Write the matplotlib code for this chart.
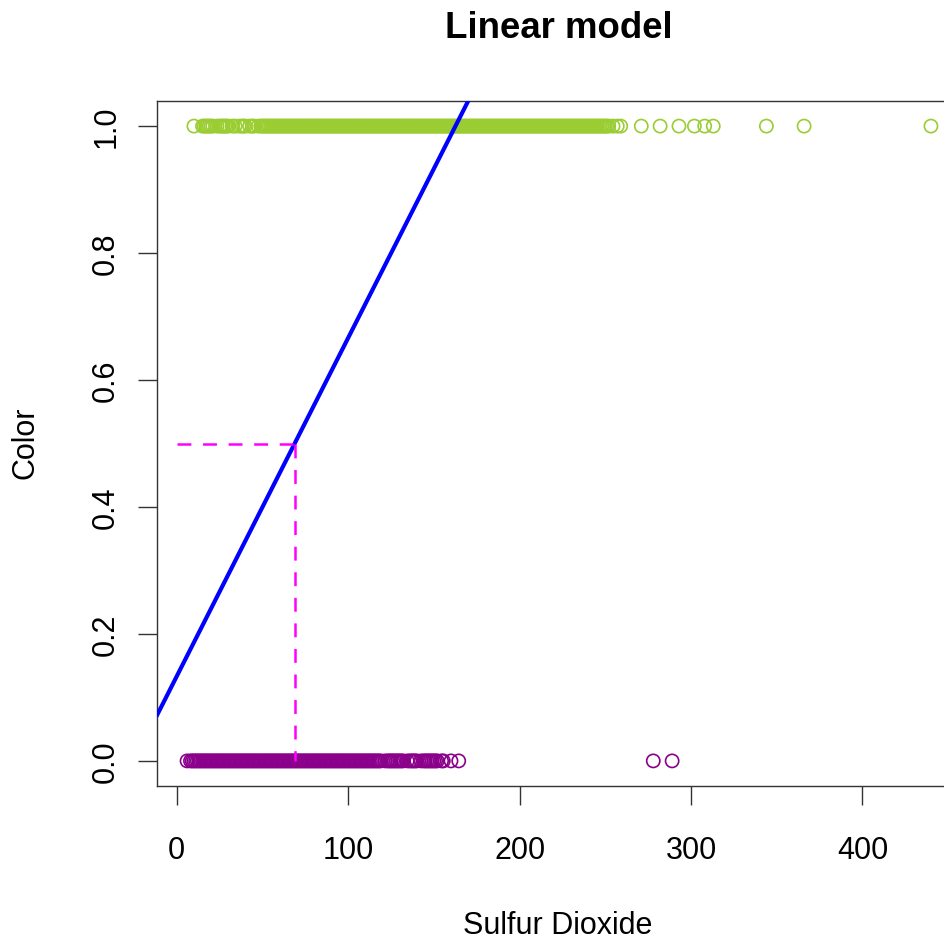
import matplotlib
matplotlib.use("Agg")
import matplotlib.pyplot as plt

# ---- data (dense bands read as ~1-unit steps) ----
white_so2 = [10, 15, 16, 17, 18, 19, 20, 21, 23.5, 25, 26, 27, 28, 29, 30, 32.5, 34,
             36.5, 38, 39, 40, 42.5, 44, 45, 47.5,
             49, 50, 51, 52, 53, 54, 55, 56, 57, 58, 59, 60, 61, 62, 63, 64, 65, 66,
             67, 68, 69, 70, 71, 72, 73, 74, 75, 76, 77, 78, 79, 80, 81, 82, 83, 84,
             85, 86, 87, 88, 89, 90, 91, 92, 93, 94, 95, 96, 97, 98, 99, 100, 101, 102,
             103, 104, 105, 106, 107, 108, 109, 110, 111, 112, 113, 114, 115, 116, 117,
             118, 119, 120, 121, 122, 123, 124, 125, 126, 127, 128, 129, 130, 131, 132,
             133, 134, 135, 136, 137, 138, 139, 140, 141, 142, 143, 144, 145, 146, 147,
             148, 149, 150, 151, 152, 153, 154, 155, 156, 157, 158, 159, 160, 161, 162,
             163, 164, 165, 166, 167, 168, 169, 170, 171, 172, 173, 174, 175, 176, 177,
             178, 179, 180, 181, 182, 183, 184, 185, 186, 187, 188, 189, 190, 191, 192,
             193, 194, 195, 196, 197, 198, 199, 200, 201, 202, 203, 204, 205, 206, 207,
             208, 209, 210, 211, 212, 213, 214, 215, 216, 217, 218, 219, 220, 221, 222,
             223, 224, 225, 226, 227, 228, 229, 230, 231, 232, 233, 234, 235, 236, 237,
             238, 239, 240, 241, 242, 243, 244, 245, 246, 247, 248, 249, 250, 251, 252,
             254.5, 257, 259, 271, 282, 293, 302, 308, 313, 344, 366, 440]
red_so2 = [6, 8, 9, 10, 11, 12, 13, 14, 15, 16, 17, 18, 19, 20, 21, 22, 23, 24, 25,
           26, 27, 28, 29, 30, 31, 32, 33, 34, 35, 36, 37, 38, 39, 40, 41, 42, 43, 44,
           45, 46, 47, 48, 49, 50, 51, 52, 53, 54, 55, 56, 57, 58, 59, 60, 61, 62, 63,
           64, 65, 66, 67, 68, 69, 70, 71, 72, 73, 74, 75, 76, 77, 78, 79, 80, 81, 82,
           83, 84, 85, 86, 87, 88, 89, 90, 91, 92, 93, 94, 95, 96, 97, 98, 99, 100,
           101, 102, 103, 104, 105, 106, 107, 108, 109, 110, 111, 112, 113, 114, 115,
           116, 117, 118, 119, 121.5, 123, 124, 125, 126, 127, 128, 129, 130, 131, 132,
           134.5, 136, 137, 138, 139, 140, 142.5, 144, 145, 146, 147, 148, 149, 150,
           151, 152, 154.5, 155.5, 160, 164.5, 278, 289]
white_color = 1.0
red_color = 0.0

lm_intercept = 0.1334
lm_slope = 0.00533
cutoff_prob = 0.5
cutoff_so2 = 68.7

title = "Linear model"
xlabel = "Sulfur Dioxide"
ylabel = "Color"
xticks = [0, 100, 200, 300, 400]
yticks = [0.0, 0.2, 0.4, 0.6, 0.8, 1.0]

plt.rcParams['font.family'] = ['Liberation Sans', 'DejaVu Sans']
plt.rcParams['lines.scale_dashes'] = False

W = H = 945
fig = plt.figure(figsize=(9.45, 9.45), dpi=100)
left, right, top, bottom = 157.3, 960.7, 101.7, 787.3
ax = fig.add_axes([left / W, 1 - bottom / H, (right - left) / W, (bottom - top) / H])

ax.scatter(white_so2, [white_color] * len(white_so2), s=90, facecolors='none',
           edgecolors='#9ACD32', linewidths=1.2, zorder=2)
ax.scatter(red_so2, [red_color] * len(red_so2), s=90, facecolors='none',
           edgecolors='#8B008B', linewidths=1.2, zorder=2)

xmin_d = min(white_so2 + red_so2)
xmax_d = max(white_so2 + red_so2)
pad = 0.04 * (xmax_d - xmin_d)
ax.set_xlim(xmin_d - pad, xmax_d + pad)
ax.set_ylim(-0.04, 1.04)

ax.axline((0, lm_intercept), slope=lm_slope, color='blue', lw=3.0, zorder=3)
ax.plot([0, cutoff_so2], [cutoff_prob, cutoff_prob], color='magenta', lw=1.8,
        dashes=(10, 8.4), zorder=3)
ax.plot([cutoff_so2, cutoff_so2], [cutoff_prob, red_color], color='magenta', lw=1.8,
        dashes=(10, 8.4), zorder=3)

ax.set_xticks(xticks)
ax.set_xticklabels([str(t) for t in xticks])
ax.set_yticks(yticks)
ax.set_yticklabels([f"{t:.1f}" for t in yticks], rotation=90, va='center')
ax.tick_params(axis='both', length=14, width=1, labelsize=22, color='#333333')
ax.tick_params(axis='x', pad=21)
ax.tick_params(axis='y', pad=12)
for s in ax.spines.values():
    s.set_linewidth(1.0)
    s.set_color('#333333')

fig.text(559 / W, 1 - 28 / H, title, ha='center', va='center', fontsize=26.4,
         fontweight='bold')
fig.text(558 / W, 1 - 926 / H, xlabel, ha='center', va='center', fontsize=22)
fig.text(26 / W, 1 - 443 / H, ylabel, ha='center', va='center', fontsize=22,
         rotation=90)

fig.savefig("out.png", dpi=100)
